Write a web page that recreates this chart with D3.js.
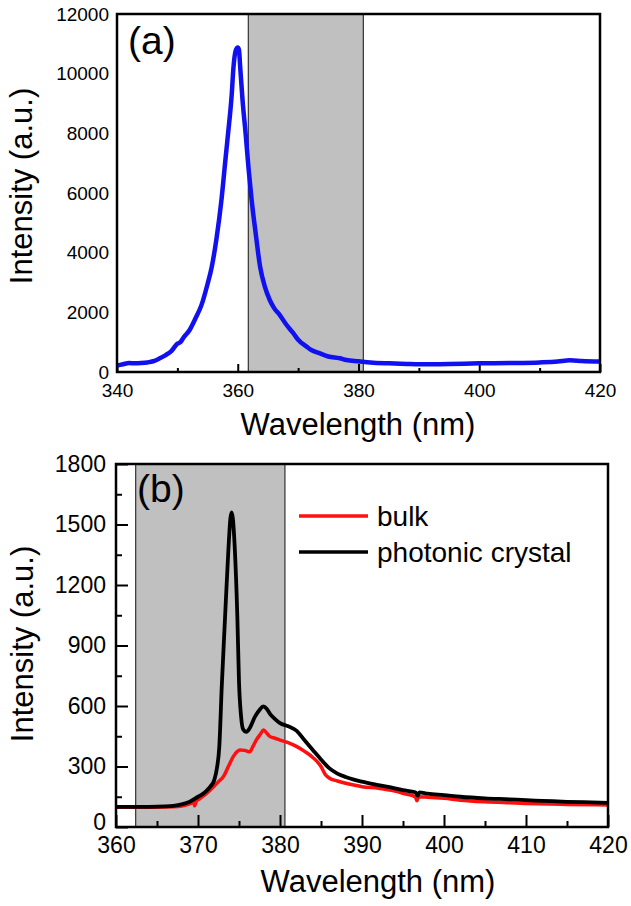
<!DOCTYPE html>
<html>
<head>
<meta charset="utf-8">
<script src="https://cdn.jsdelivr.net/npm/d3@7"></script>
<style>
  body { margin: 0; background: #fff; }
  text { font-family: "Liberation Sans", Arial, sans-serif; fill: #000; }
</style>
</head>
<body>
<div id="chart"></div>
<script>
// Panel (a) data - single emission spectrum
var aWavelength = [340, 341, 342, 343, 344, 345, 346, 347, 348, 349, 350, 350.5, 351, 352, 353, 354, 355, 355.7, 356.5, 357.3, 358, 358.4, 359, 359.3, 359.7, 360, 360.2, 360.4, 360.8, 361.3, 361.8, 362.3, 363, 363.7, 364.5, 365.3, 366, 367, 368, 369.2, 370, 371.4, 372, 373.6, 375, 376.9, 378, 380, 382, 385, 388, 390, 395, 400, 405, 410, 413, 415, 417, 420];
var aIntensity = [220, 260, 300, 290, 300, 320, 360, 450, 560, 700, 950, 1000, 1150, 1400, 1800, 2250, 2950, 3530, 4500, 5766, 7200, 8000, 9300, 10235, 10800, 10880, 10800, 10235, 9100, 8000, 6800, 5766, 4600, 3530, 2850, 2414, 2150, 1900, 1600, 1300, 1080, 850, 760, 625, 520, 460, 400, 360, 320, 290, 270, 260, 270, 290, 300, 320, 350, 390, 370, 350];

// Panel (b) data - bulk vs photonic crystal
var bulkWavelength = [360, 362, 364, 366, 367, 368, 369, 369.5, 369.6, 369.8, 370.2, 371, 371.9, 372.5, 373.1, 373.7, 374.3, 374.8, 375.1, 375.7, 376.3, 376.7, 377.1, 377.6, 378, 378.4, 378.8, 379.4, 380, 381.2, 382, 383, 384, 385, 385.5, 386, 387, 388, 389, 390, 392, 394, 395, 396.5, 396.7, 396.9, 398, 400, 402, 405, 408, 410, 415, 420];
var bulkIntensity = [98, 98, 98, 99, 100, 104, 115, 122, 105, 128, 140, 165, 200, 225, 250, 300, 349, 375, 382, 380, 373, 400, 431, 460, 481, 465, 448, 440, 431, 415, 400, 375, 345, 300, 262, 243, 228, 217, 208, 200, 192, 178, 167, 150, 130, 150, 148, 142, 133, 125, 120, 117, 112, 109];
var pcWavelength = [360, 362, 364, 366, 367, 368, 369, 370, 370.5, 371, 371.5, 372, 372.3, 372.6, 372.9, 373.3, 373.7, 373.95, 374.1, 374.25, 374.5, 374.8, 375, 375.25, 375.5, 375.9, 376.3, 376.95, 377.5, 377.96, 378.4, 378.8, 379.4, 380, 381, 382, 383, 384, 385, 386, 387, 388, 389, 390, 392, 394, 395, 396.5, 396.8, 397, 398, 400, 402, 405, 408, 410, 412, 415, 418, 420];
var pcIntensity = [100, 100, 100, 102, 105, 112, 125, 150, 162, 178, 200, 235, 290, 400, 700, 1040, 1370, 1530, 1560, 1530, 1370, 1040, 720, 550, 485, 472, 490, 547, 580, 598, 585, 560, 535, 515, 500, 478, 430, 382, 335, 292, 265, 248, 235, 225, 208, 192, 183, 172, 155, 172, 165, 158, 150, 142, 137, 133, 130, 125, 122, 120];

// shaded band (nm) and tick values
var shadeA = [361.75, 380.8];
var shadeB = [362.4, 380.6];
var aXTicks = [340, 360, 380, 400, 420];
var aXMinor = [350, 370, 390, 410];
var aYTicks = [0, 2000, 4000, 6000, 8000, 10000, 12000];
var bXTicks = [360, 370, 380, 390, 400, 410, 420];
var bXMinor = [365, 375, 385, 395, 405, 415];
var bYTicks = [0, 300, 600, 900, 1200, 1500, 1800];
var bYMinor = [150, 450, 750, 1050, 1350, 1650];
var legendNames = ["bulk", "photonic crystal"];
var legendColors = ["#ff1010", "#000000"];

var svgWidth = 631;
var svgHeight = 906;

var svg = d3.select("#chart")
    .append("svg")
    .attr("width", svgWidth)
    .attr("height", svgHeight);

var font = "'Liberation Sans', Arial, sans-serif";

// draws the common parts of one panel
function drawPanel(opt) {
    var x = opt.x, y = opt.y;
    var g = svg.append("g");
    var x0 = x.range()[0], x1 = x.range()[1];
    var y0 = y.range()[1], y1 = y.range()[0];

    g.append("clipPath").attr("id", opt.id)
        .append("rect")
        .attr("x", x0).attr("y", y0)
        .attr("width", x1 - x0).attr("height", y1 - y0);

    // shaded band
    g.append("rect")
        .attr("x", x(opt.shade[0]))
        .attr("y", y0)
        .attr("width", x(opt.shade[1]) - x(opt.shade[0]))
        .attr("height", y1 - y0)
        .attr("fill", "#c0c0c0")
        .attr("stroke", "#333")
        .attr("stroke-width", 1.2);

    // x axis, ticks pointing inward
    var xAxis = g.append("g")
        .attr("transform", `translate(0,${y1})`)
        .call(d3.axisBottom(x).tickValues(opt.xTicks).tickSize(-opt.major).tickPadding(opt.xPad).tickFormat(d3.format("d")));
    xAxis.select(".domain").remove();
    xAxis.selectAll("line").attr("stroke-width", 2);
    xAxis.selectAll("text").style("font-family", font).style("font-size", opt.tickFont + "px").attr("fill", "#000");

    var xMinor = g.append("g")
        .attr("transform", `translate(0,${y1})`)
        .call(d3.axisBottom(x).tickValues(opt.xMinor).tickSize(-opt.minor).tickFormat(""));
    xMinor.select(".domain").remove();
    xMinor.selectAll("line").attr("stroke-width", 2);

    // y axis
    var yAxis = g.append("g")
        .attr("transform", `translate(${x0},0)`)
        .call(d3.axisLeft(y).tickValues(opt.yTicks).tickSize(-opt.yMajor).tickPadding(opt.yPad).tickFormat(d3.format("d")));
    yAxis.select(".domain").remove();
    yAxis.selectAll("line").attr("stroke-width", 2);
    yAxis.selectAll("text").style("font-family", font).style("font-size", opt.tickFont + "px").attr("fill", "#000");
    // the zero label sits a little above the corner, as in the original
    yAxis.selectAll("text").filter(d => d === 0).attr("dy", opt.zeroDy);

    if (opt.yMinor) {
        var yMinor = g.append("g")
            .attr("transform", `translate(${x0},0)`)
            .call(d3.axisLeft(y).tickValues(opt.yMinor).tickSize(-opt.minor).tickFormat(""));
        yMinor.select(".domain").remove();
        yMinor.selectAll("line").attr("stroke-width", 2);
    }

    // axis titles
    g.append("text")
        .attr("x", opt.xTitleX)
        .attr("y", opt.xTitleY)
        .attr("text-anchor", "middle")
        .style("font-size", "31px")
        .text("Wavelength (nm)");

    g.append("text")
        .attr("transform", `translate(${opt.yTitleX},${opt.yTitleY}) rotate(-90)`)
        .attr("text-anchor", "middle")
        .style("font-size", "31px")
        .text("Intensity (a.u.)");

    // panel letter
    g.append("text")
        .attr("x", opt.letterX)
        .attr("y", opt.letterY)
        .style("font-size", "39px")
        .text(opt.letter);

    return g;
}

function drawFrame(g, x, y) {
    g.append("rect")
        .attr("x", x.range()[0])
        .attr("y", y.range()[1])
        .attr("width", x.range()[1] - x.range()[0])
        .attr("height", y.range()[0] - y.range()[1])
        .attr("fill", "none")
        .attr("stroke", "#000")
        .attr("stroke-width", 2.5);
}

// Panel (a)
var xA = d3.scaleLinear().domain([340, 420]).range([117, 600]);
var yA = d3.scaleLinear().domain([0, 12000]).range([372, 14]);

var gA = drawPanel({
    id: "clipA", x: xA, y: yA, shade: shadeA,
    xTicks: aXTicks, xMinor: aXMinor, yTicks: aYTicks, yMinor: null,
    major: 8, minor: 4, yMajor: 0, xPad: 12, yPad: 8, tickFont: 19, zeroDy: "0.32em",
    xTitleX: 358, xTitleY: 435, yTitleX: 32, yTitleY: 186,
    letter: "(a)", letterX: 128, letterY: 54
});

var lineA = d3.line()
    .x((d, i) => xA(aWavelength[i]))
    .y(d => yA(d))
    .curve(d3.curveMonotoneX);

gA.append("path")
    .datum(aIntensity)
    .attr("clip-path", "url(#clipA)")
    .attr("d", lineA)
    .attr("fill", "none")
    .attr("stroke", "#1010f0")
    .attr("stroke-width", 4.5);

drawFrame(gA, xA, yA);

// Panel (b)
var xB = d3.scaleLinear().domain([360, 420]).range([116, 608]);
var yB = d3.scaleLinear().domain([0, 1800]).range([827, 464]);

var gB = drawPanel({
    id: "clipB", x: xB, y: yB, shade: shadeB,
    xTicks: bXTicks, xMinor: bXMinor, yTicks: bYTicks, yMinor: bYMinor,
    major: 12, minor: 6, yMajor: 12, xPad: 10, yPad: 10, tickFont: 23, zeroDy: "0.1em",
    xTitleX: 378, xTitleY: 892, yTitleX: 33, yTitleY: 644,
    letter: "(b)", letterX: 137, letterY: 502
});

var series = [
    {wl: bulkWavelength, val: bulkIntensity, color: legendColors[0], width: 3.5},
    {wl: pcWavelength, val: pcIntensity, color: legendColors[1], width: 3.8}
];

series.forEach(function(s) {
    var line = d3.line()
        .x((d, i) => xB(s.wl[i]))
        .y(d => yB(d))
        .curve(d3.curveMonotoneX);
    gB.append("path")
        .datum(s.val)
        .attr("clip-path", "url(#clipB)")
        .attr("d", line)
        .attr("fill", "none")
        .attr("stroke", s.color)
        .attr("stroke-width", s.width);
});

drawFrame(gB, xB, yB);

// legend
var legend = gB.append("g").attr("transform", "translate(299,516)");
legendNames.forEach(function(name, i) {
    legend.append("line")
        .attr("x1", 0).attr("x2", 69)
        .attr("y1", i * 36).attr("y2", i * 36)
        .attr("stroke", legendColors[i])
        .attr("stroke-width", 3.5);
    legend.append("text")
        .attr("x", 78)
        .attr("y", i * 36 + 10)
        .style("font-size", "28px")
        .text(name);
});
</script>
</body>
</html>
